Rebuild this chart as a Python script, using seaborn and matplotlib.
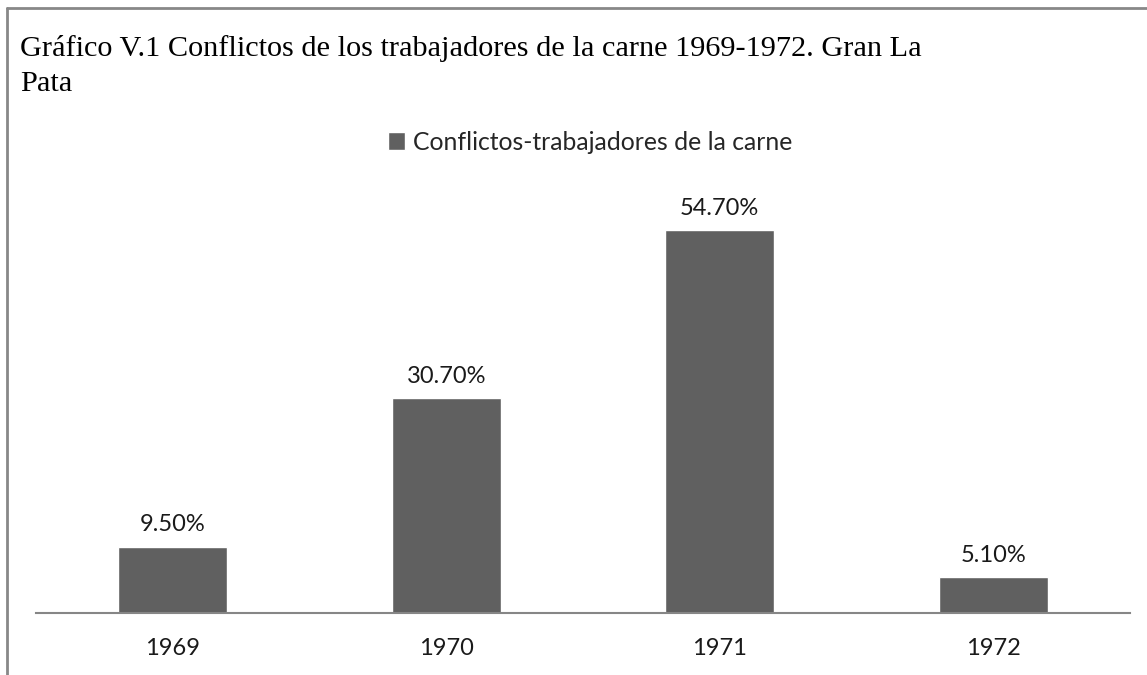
import pandas as pd
import matplotlib.pyplot as plt
from matplotlib.lines import Line2D
from matplotlib.patches import Patch
import seaborn as sns

# Datos del gráfico
anios = ["1969", "1970", "1971", "1972"]
conflictos = [9.5, 30.7, 54.7, 5.1]
serie = "Conflictos-trabajadores de la carne"

df = pd.DataFrame({"anio": anios, "conflictos": conflictos})

sns.set_style("white")
plt.rcParams["font.family"] = ["Lato", "DejaVu Sans"]

fig = plt.figure(figsize=(11.47, 6.75), dpi=100)
W, H = 1147, 675
ax = fig.add_axes([36 / W, (H - 613) / H, (1130 - 36) / W, (613 - 193) / H])

color_barra = "#606060"
sns.barplot(data=df, x="anio", y="conflictos", color=color_barra,
            saturation=1, width=0.4, ax=ax)

ax.set_ylim(0, 60)
ax.set_xlim(-0.5, 3.5)
ax.set_xlabel("")
ax.set_ylabel("")
ax.set_yticks([])
ax.tick_params(axis="x", length=0, labelsize=17, pad=18, colors="#1a1a1a")
for s in ["top", "right", "left"]:
    ax.spines[s].set_visible(False)
ax.spines["bottom"].set_color("#868686")
ax.spines["bottom"].set_linewidth(1.5)

# Etiquetas de valores
ax.bar_label(ax.containers[0], labels=[f"{v:.2f}%" for v in conflictos],
             padding=8, fontsize=17, color="#1a1a1a")

# Título (Times)
fig.text(20 / W, 1 - 66 / H,
         "Gráfico V.1 Conflictos de los trabajadores de la carne 1969-1972. Gran La\nPata",
         family="Liberation Serif", fontsize=21.8, va="center", ha="left",
         linespacing=1.42, color="#000000")

# Leyenda
fig.legend(handles=[Patch(facecolor=color_barra, label=serie)],
           loc="center", bbox_to_anchor=(590 / W, 1 - 142 / H), frameon=False,
           fontsize=17.8, handlelength=0.7, handleheight=0.7, handletextpad=0.3)

# Marco del gráfico
fig.add_artist(Line2D([7 / W, 1], [1 - 8 / H, 1 - 8 / H], color="#888888", lw=2))
fig.add_artist(Line2D([7 / W, 7 / W], [0, 1 - 8 / H], color="#888888", lw=2))

fig.savefig("out.png", dpi=100, facecolor="white")
